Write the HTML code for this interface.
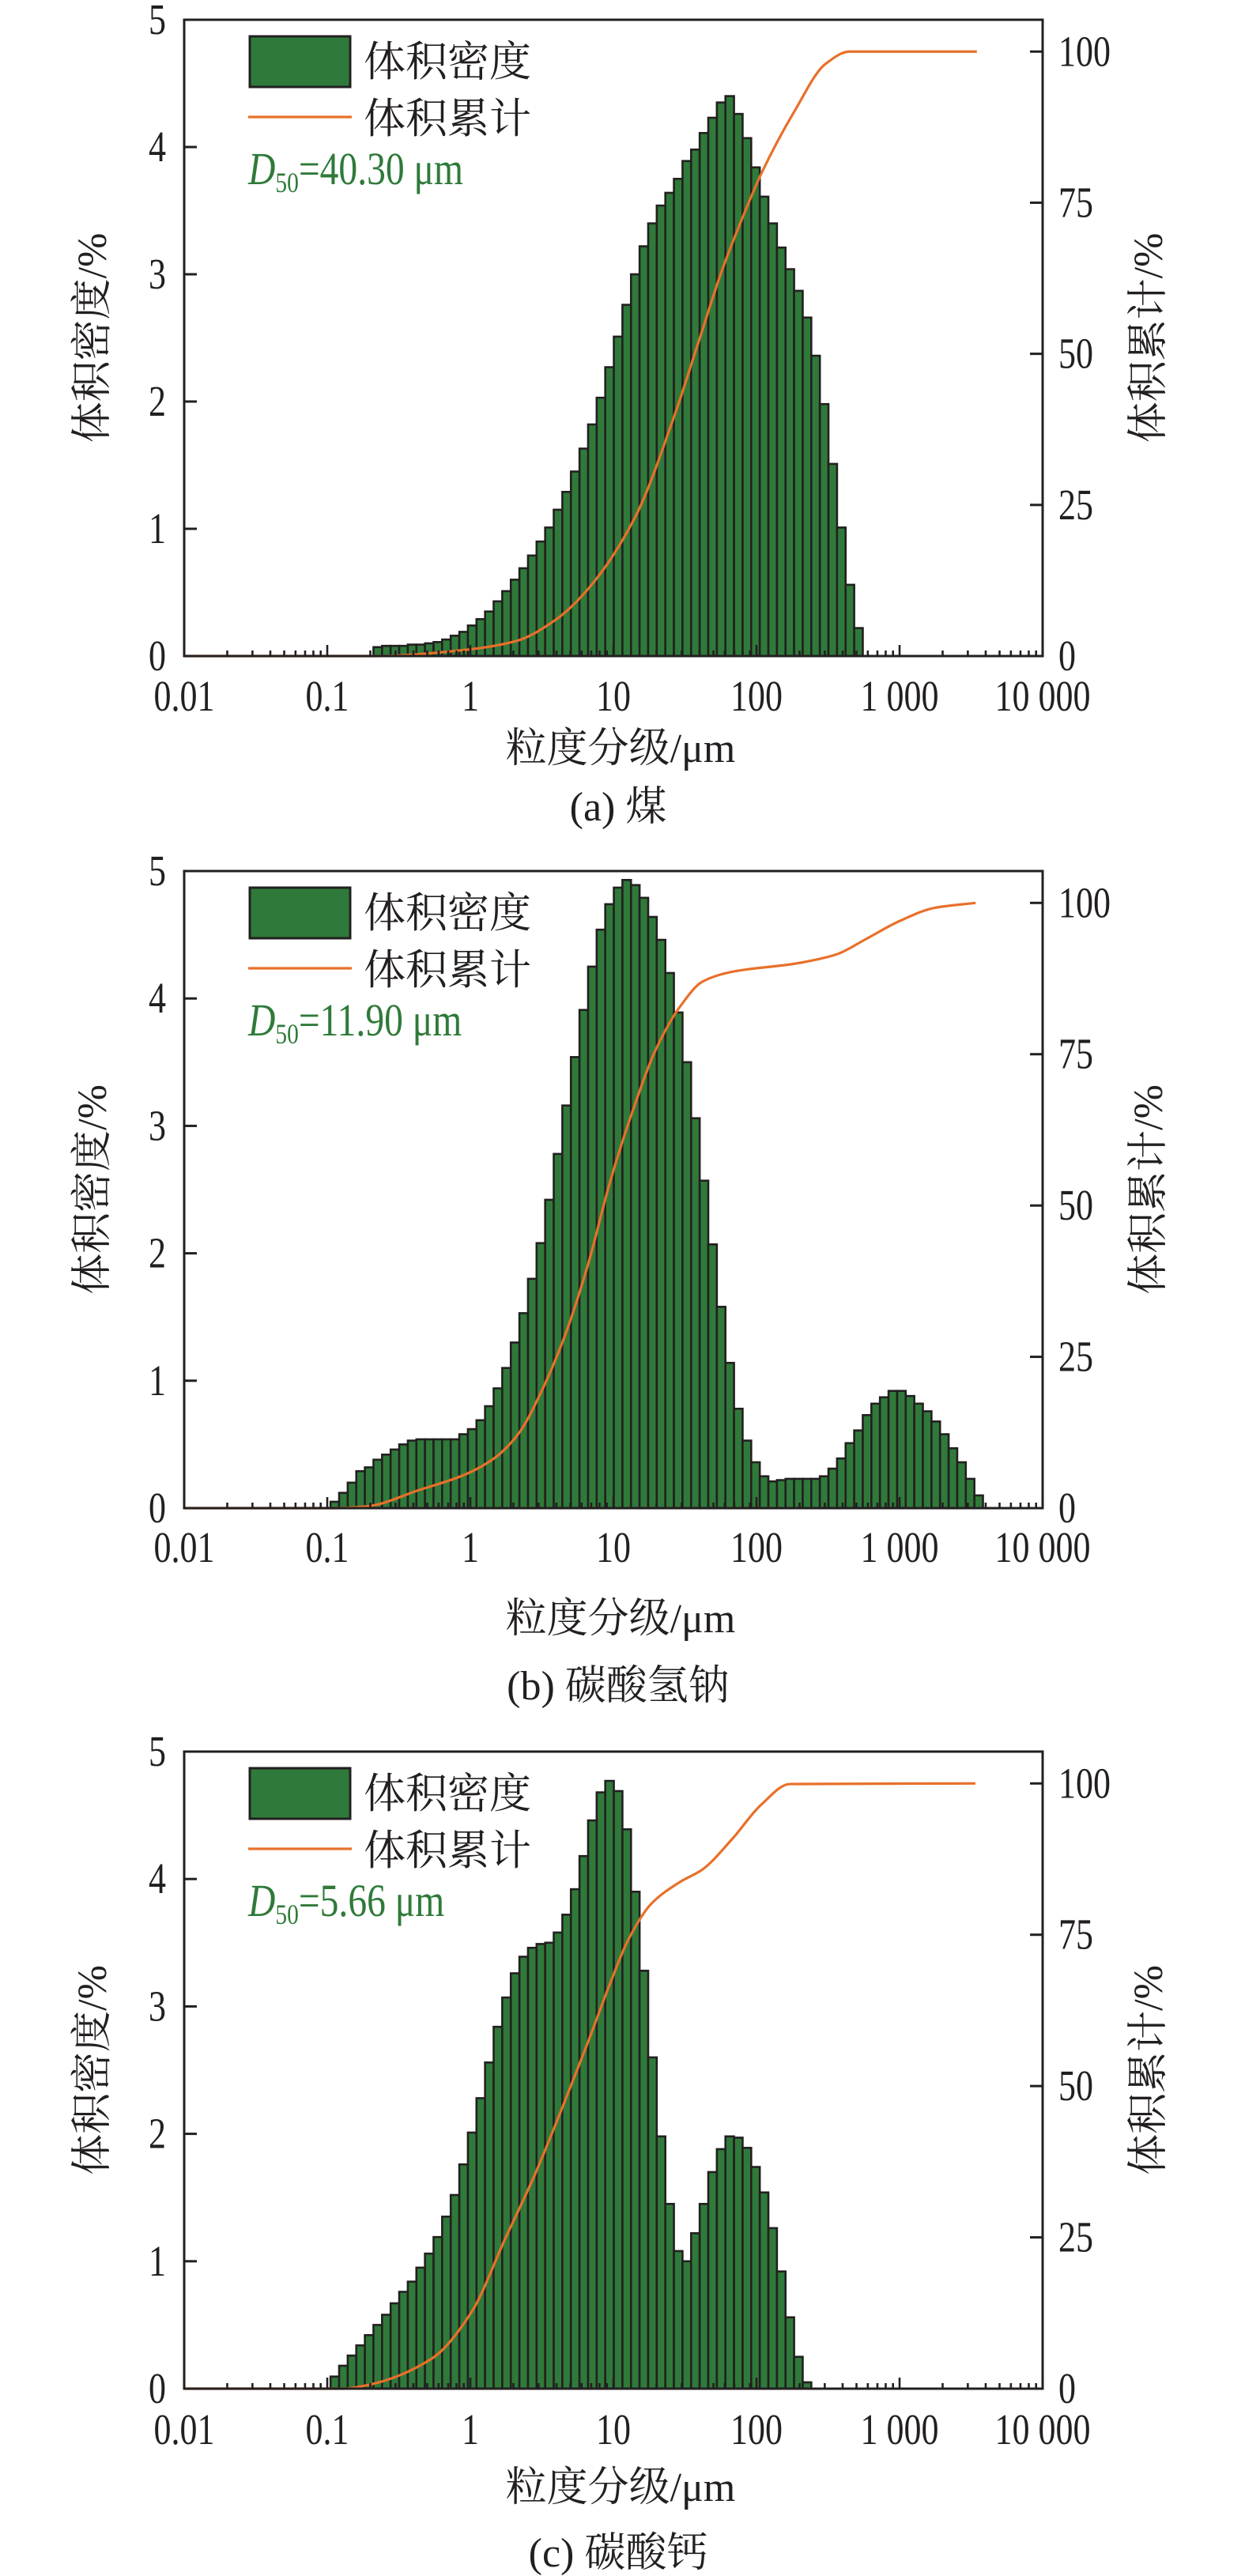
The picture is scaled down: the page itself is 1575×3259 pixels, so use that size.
<!DOCTYPE html>
<html><head><meta charset="utf-8">
<style>
html,body{margin:0;padding:0;background:#fff;}
svg{display:block;}
text{font-family:"Liberation Serif","Noto Serif CJK SC",serif;fill:#231f20;}
.cjk{font-family:"Liberation Serif","Noto Serif CJK SC",serif;}
</style></head>
<body>
<svg id="chart" width="1575" height="3259" viewBox="0 0 1575 3259" xmlns="http://www.w3.org/2000/svg"></svg>
<script>
// ---- data ----
const xTickLabels = ["0.01","0.1","1","10","100","1 000","10 000"];
const yLeftTicks = [0,1,2,3,4,5];
const yRightTicks = [0,25,50,75,100];
const panelCaptions = ["(a) 煤","(b) 碳酸氢钠","(c) 碳酸钙"];
const d50Values = ["40.30","11.90","5.66"];
const binStart = [22,17,17];
const densityA = [0.07,0.08,0.08,0.08,0.09,0.09,0.10,0.11,0.13,0.16,0.19,
 0.24,0.29,0.35,0.43,0.51,0.60,0.69,0.79,0.9,1.01,1.15,1.29,1.45,1.63,1.82,2.03,2.27,2.51,2.76,3.0,3.22,3.4,3.54,3.64,3.75,3.89,3.98,4.11,4.23,4.35,4.4,4.26,4.07,3.84,3.61,3.4,3.21,3.04,2.87,2.66,2.36,1.98,1.51,1.01,0.56,0.22];
const densityB = [0.05,0.12,0.2,0.29,0.32,0.38,0.42,0.46,0.5,0.53,0.54,0.54,0.54,0.54,0.54,0.58,0.62,0.69,0.8,0.94,1.1,1.3,1.53,1.8,2.08,2.42,2.78,3.16,3.54,3.91,4.25,4.54,4.74,4.87,4.93,4.89,4.79,4.64,4.46,4.2,3.89,3.5,3.06,2.57,2.07,1.58,1.14,0.78,0.53,0.36,0.25,0.21,0.22,0.23,0.23,0.23,0.23,0.25,0.31,0.39,0.51,0.61,0.73,0.82,0.87,0.92,0.92,0.88,0.82,0.76,0.68,0.58,0.47,0.36,0.23,0.1];
const densityC = [0.095,0.18,0.26,0.34,0.42,0.5,0.58,0.67,0.76,0.84,0.95,1.06,1.19,1.35,1.52,1.76,2.01,2.28,2.56,2.84,3.07,3.26,3.39,3.46,3.49,3.5,3.58,3.72,3.92,4.18,4.46,4.68,4.77,4.69,4.39,3.9,3.28,2.6,1.98,1.45,1.08,1.0,1.22,1.45,1.7,1.88,1.98,1.97,1.89,1.74,1.54,1.26,0.92,0.56,0.25,0.05];
const cumSizeA = [0.01,0.22,0.91,2.1,3.95,6.6,14.2,26.9,39.4,57.8,84.7,109,183,305,447,3470];
const cumPctA  = [0,0,1,2.5,6,11,23,40,52,64,74,80,90,98,100,100];
const cumSizeB = [0.01,0.117,0.19,0.44,0.93,1.5,2.2,3.1,4.5,6.6,9.5,13.8,20,29.5,42,67,190,363,580,1000,1770,3400];
const cumPctB  = [0,0,0.3,3,5.6,8.4,12.5,19,28,40,54,66,76,83,87,88.6,90,91.5,94,97,99.2,100];
const cumSizeC = [0.01,0.129,0.196,0.54,1.01,1.77,2.84,4.49,6.58,9.5,12.6,18.2,29.1,42,67.5,108,171,3390];
const cumPctC  = [0,0,0.65,5,12.5,25,35.5,47,57,67,74,80,83.7,85.8,90.8,96.5,99.9,100];

const densities=[densityA,densityB,densityC];
const cumSizes=[cumSizeA,cumSizeB,cumSizeC];
const cumPcts=[cumPctA,cumPctB,cumPctC];

// ---- layout ----
const NS="http://www.w3.org/2000/svg";
const svg=document.getElementById('chart');
const X0=233, X1=1319, PHASE=0.05;
const panels=[{top:25,bot:830,lab:50,tit:116,cap:190},{top:1102,bot:1908,lab:49,tit:139,cap:224},{top:2216,bot:3022,lab:51,tit:124,cap:207}];
const GREEN="#2f7a3a", ORANGE="#e8702a", INK="#231f20";
function xs(v){return X0+(Math.log10(v)+2)/6*(X1-X0);}
function mk(tag,attrs,parent){const e=document.createElementNS(NS,tag);for(const k in attrs)e.setAttribute(k,attrs[k]);(parent||svg).appendChild(e);return e;}
function numText(parent,x,y,str,anchor){
  const t=mk('text',{x:0,y:0,'text-anchor':anchor,'font-size':55,transform:'translate('+x+','+y+') scale(0.8,1)'},parent);
  t.textContent=str;return t;
}
function monotonePath(pts){
  const n=pts.length, dx=[], m=[], t=new Array(n);
  for(let i=0;i<n-1;i++){dx[i]=pts[i+1][0]-pts[i][0];m[i]=(pts[i+1][1]-pts[i][1])/dx[i];}
  t[0]=m[0];t[n-1]=m[n-2];
  for(let i=1;i<n-1;i++){ if(m[i-1]*m[i]<=0) t[i]=0; else { const w1=2*dx[i]+dx[i-1], w2=dx[i]+2*dx[i-1]; t[i]=(w1+w2)/(w1/m[i-1]+w2/m[i]); } }
  let d='M'+pts[0][0]+','+pts[0][1];
  for(let i=0;i<n-1;i++){const h=dx[i]/3;
    d+=' C'+(pts[i][0]+h)+','+(pts[i][1]+t[i]*h)+' '+(pts[i+1][0]-h)+','+(pts[i+1][1]-t[i+1]*h)+' '+pts[i+1][0]+','+pts[i+1][1];}
  return d;
}

panels.forEach((P,pi)=>{
  const g=mk('g',{});
  
  
  const unit=(P.bot-P.top)/5;
  const yL=v=>P.bot-v*unit;
  const yR=p=>P.bot-p/100*4.75*unit;
  const bg=mk('g',{},g);
  
  
  densities[pi].forEach((v,k)=>{
    const i=binStart[pi]+k;
    const a=Math.pow(10,-2+(i+PHASE)*0.06), b=Math.pow(10,-2+(i+1+PHASE)*0.06);
    const r=mk('rect',{x:xs(a),y:yL(v),width:xs(b)-xs(a),height:P.bot-yL(v),fill:GREEN,stroke:INK,'stroke-width':2.6},bg);
    
    
  });
  const pts=cumSizes[pi].map((s,k)=>[xs(s),yR(cumPcts[pi][k])]);
  const cl=mk('path',{d:monotonePath(pts),fill:'none',stroke:ORANGE,'stroke-width':3.2},g);
  
  
  const fr=mk('rect',{x:X0,y:P.top,width:X1-X0,height:P.bot-P.top,fill:'none',stroke:INK,'stroke-width':3},g);
  
  
  yLeftTicks.forEach(v=>{
    mk('line',{x1:X0,x2:X0+16,y1:yL(v),y2:yL(v),stroke:INK,'stroke-width':3},g);
    const t=numText(g,210,yL(v)+18,String(v),'end');
    
    
  });
  yRightTicks.forEach(p=>{
    mk('line',{x1:X1-16,x2:X1,y1:yR(p),y2:yR(p),stroke:INK,'stroke-width':3},g);
    const t=numText(g,1339,yR(p)+18,String(p),'start');
    
    
  });
  xTickLabels.forEach((lab,k)=>{
    const v=Math.pow(10,k-2);
    mk('line',{x1:xs(v),x2:xs(v),y1:P.bot,y2:P.bot-14,stroke:INK,'stroke-width':2.6},g);
    if(k<6) for(let m=2;m<10;m++){const x=xs(v*m);mk('line',{x1:x,x2:x,y1:P.bot,y2:P.bot-7,stroke:INK,'stroke-width':2.6},g);}
    const t=numText(g,xs(v),P.bot+P.lab+19,lab,'middle');
    
    
  });
  const xt=mk('text',{x:785,y:P.bot+P.tit+18,'text-anchor':'middle','font-size':52,class:'cjk'},g);
  xt.textContent='粒度分级/μm';
  
  
  const cy=(P.top+P.bot)/2;
  const yt=mk('text',{x:0,y:0,'text-anchor':'middle','font-size':52,class:'cjk',transform:'translate(134,'+cy+') rotate(-90)'},g);
  yt.textContent='体积密度/%';
  
  
  const yt2=mk('text',{x:0,y:0,'text-anchor':'middle','font-size':52,class:'cjk',transform:'translate(1470,'+cy+') rotate(-90)'},g);
  yt2.textContent='体积累计/%';
  
  
  const cp=mk('text',{x:782,y:P.bot+P.cap+18,'text-anchor':'middle','font-size':52,class:'cjk'},g);
  cp.textContent=panelCaptions[pi];
  
  
  const o=P.top-25;
  const lg=mk('g',{},g);
  
  
  mk('rect',{x:316,y:46+o,width:127,height:64,fill:GREEN,stroke:INK,'stroke-width':3},lg);
  const l1=mk('text',{x:460,y:96+o,'font-size':53,class:'cjk'},lg);
  l1.textContent='体积密度';
  
  
  mk('line',{x1:314,x2:445,y1:148+o,y2:148+o,stroke:ORANGE,'stroke-width':3.2},lg);
  const l2=mk('text',{x:460,y:168+o,'font-size':53,class:'cjk'},lg);
  l2.textContent='体积累计';
  
  
  const dt=mk('text',{x:0,y:0,'font-size':58,transform:'translate(314,'+(233+o)+') scale(0.82,1)',style:'fill:'+GREEN},lg);
  
  
  const s1=mk('tspan',{'font-style':'italic'},dt);s1.textContent='D';
  const s2=mk('tspan',{'font-size':36,dy:10},dt);s2.textContent='50';
  const s3=mk('tspan',{dy:-10},dt);s3.textContent='='+d50Values[pi]+' μm';
});
</script>
</body></html>
